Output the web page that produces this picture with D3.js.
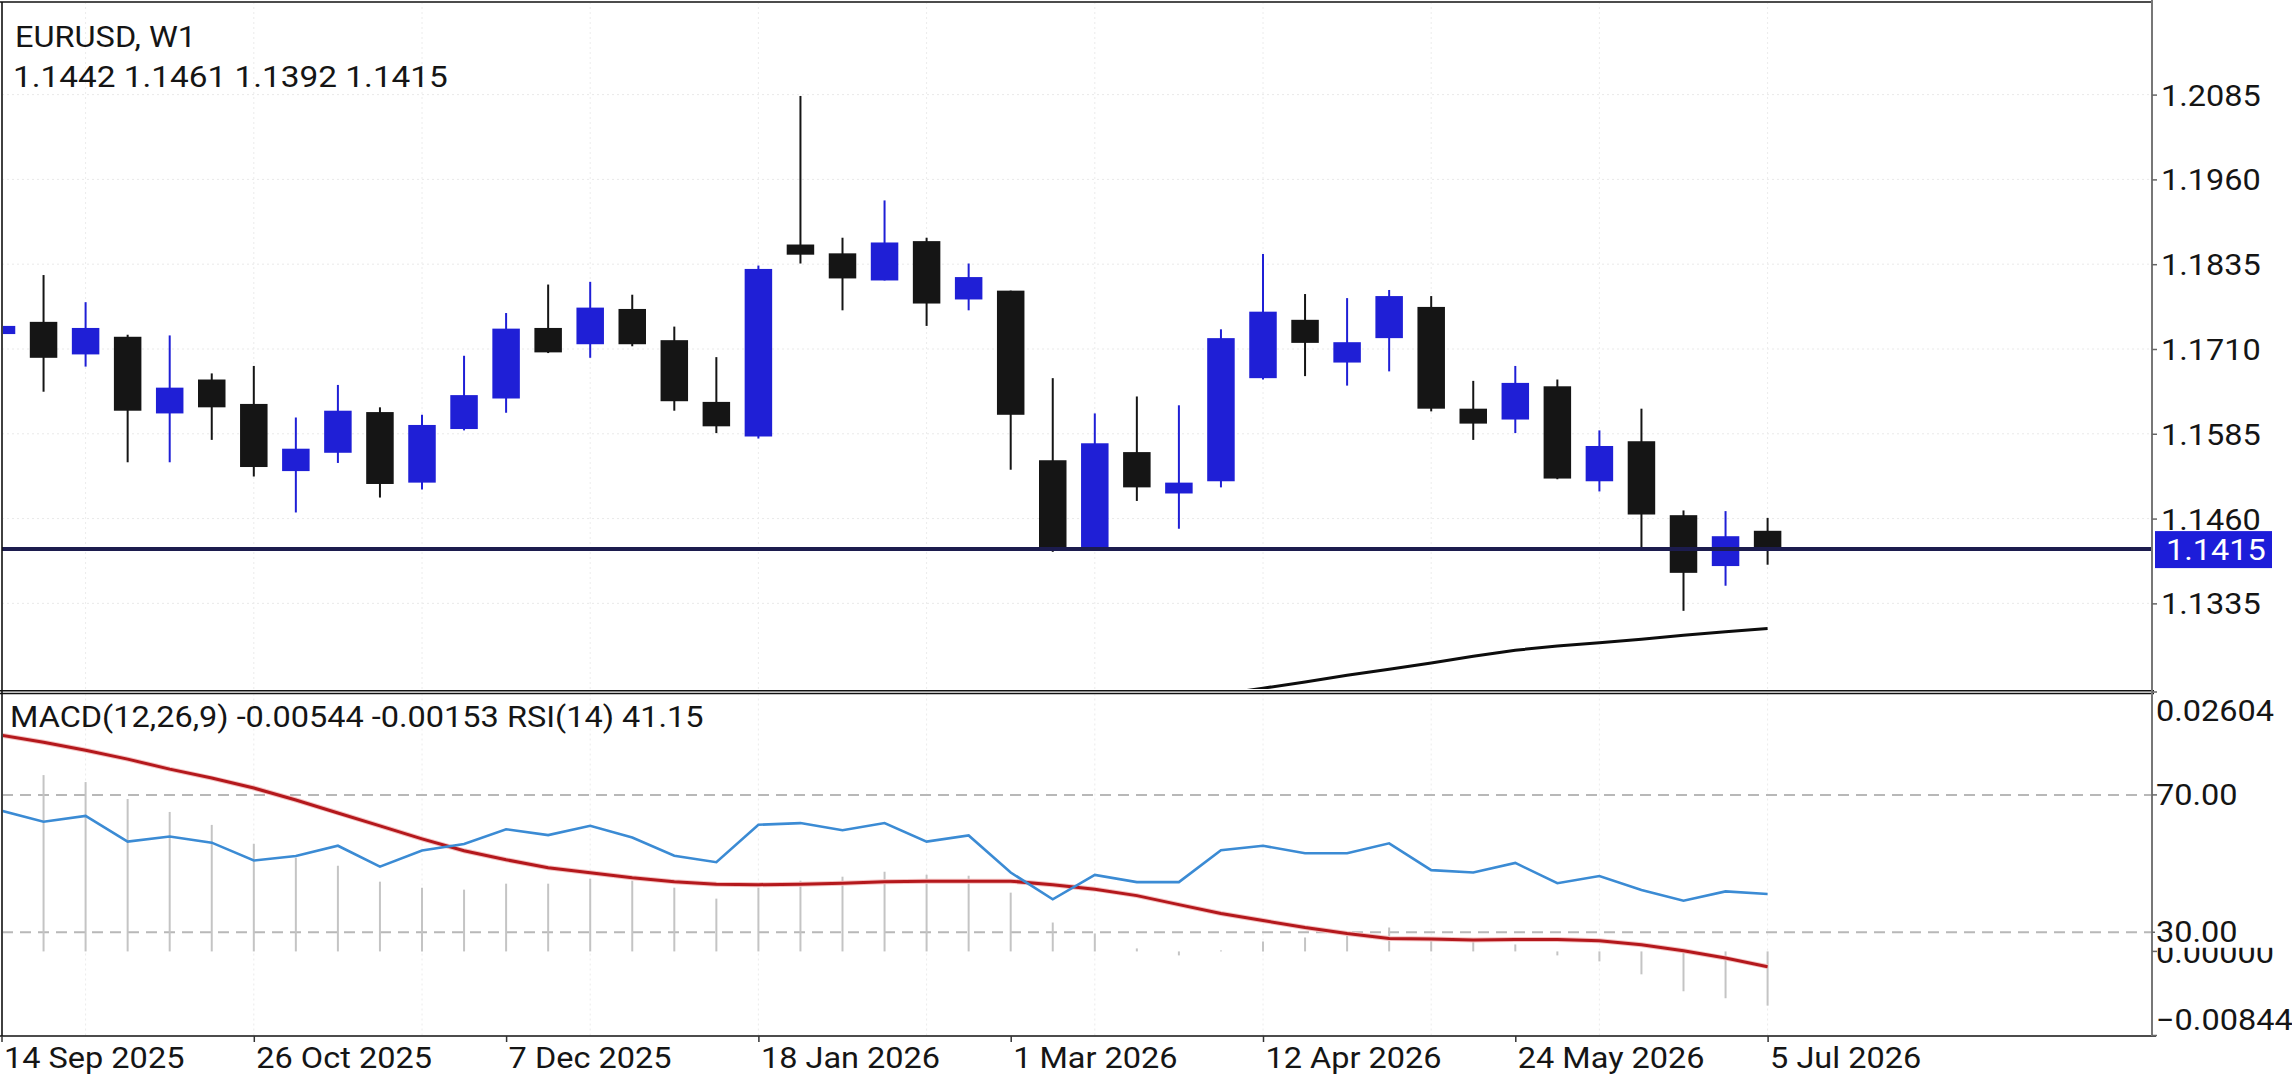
<!DOCTYPE html>
<html><head><meta charset="utf-8">
<script src="https://cdn.jsdelivr.net/npm/d3@7"></script>
<style>html,body{margin:0;padding:0;background:#fff;overflow:hidden}</style>
</head><body>
<script>
// ---------- DATA ----------
const weeks = ["14 Sep 2025","21 Sep 2025","28 Sep 2025","5 Oct 2025","12 Oct 2025","19 Oct 2025","26 Oct 2025",
"2 Nov 2025","9 Nov 2025","16 Nov 2025","23 Nov 2025","30 Nov 2025","7 Dec 2025","14 Dec 2025","21 Dec 2025","28 Dec 2025",
"4 Jan 2026","11 Jan 2026","18 Jan 2026","25 Jan 2026","1 Feb 2026","8 Feb 2026","15 Feb 2026","22 Feb 2026",
"1 Mar 2026","8 Mar 2026","15 Mar 2026","22 Mar 2026","29 Mar 2026","5 Apr 2026","12 Apr 2026","19 Apr 2026","26 Apr 2026",
"3 May 2026","10 May 2026","17 May 2026","24 May 2026","31 May 2026","7 Jun 2026","14 Jun 2026","21 Jun 2026","28 Jun 2026","5 Jul 2026"];
const openV  = [1.1732,1.1750,1.1702,1.1728,1.1615,1.1665,1.1629,1.1530,1.1557,1.1617,1.1513,1.1592,1.1637,1.1741,1.1717,1.1769,1.1723,1.1632,1.1581,1.1864,1.1851,1.1811,1.1869,1.1783,1.1796,1.1546,1.1415,1.1558,1.1497,1.1515,1.1667,1.1753,1.1690,1.1726,1.1772,1.1622,1.1606,1.1655,1.1515,1.1574,1.1465,1.1390,1.1442];
const highV  = [1.1919,1.1819,1.1779,1.1731,1.1730,1.1674,1.1685,1.1609,1.1657,1.1624,1.1613,1.1700,1.1763,1.1805,1.1809,1.1790,1.1743,1.1698,1.1833,1.2083,1.1874,1.1929,1.1874,1.1836,1.1796,1.1667,1.1615,1.1640,1.1627,1.1739,1.1850,1.1791,1.1785,1.1797,1.1788,1.1663,1.1685,1.1665,1.1590,1.1622,1.1472,1.1471,1.1461];
const lowV   = [1.1718,1.1647,1.1684,1.1543,1.1543,1.1576,1.1522,1.1469,1.1542,1.1491,1.1503,1.1590,1.1616,1.1704,1.1697,1.1714,1.1619,1.1586,1.1578,1.1836,1.1767,1.1811,1.1744,1.1767,1.1532,1.1411,1.1413,1.1486,1.1445,1.1506,1.1665,1.1670,1.1656,1.1677,1.1618,1.1576,1.1586,1.1518,1.1500,1.1417,1.1324,1.1361,1.1392];
const closeV = [1.1744,1.1697,1.1741,1.1619,1.1653,1.1624,1.1536,1.1563,1.1619,1.1511,1.1598,1.1642,1.1740,1.1705,1.1771,1.1717,1.1633,1.1596,1.1828,1.1849,1.1814,1.1867,1.1777,1.1816,1.1613,1.1414,1.1571,1.1506,1.1513,1.1726,1.1765,1.1719,1.1720,1.1788,1.1622,1.1600,1.1660,1.1519,1.1567,1.1466,1.1380,1.1434,1.1415];
const maV = [null,null,null,null,null,null,null,null,null,null,null,null,null,null,null,null,null,null,null,null,null,null,null,null,null,null,null,null,null,
  1.1201,1.1210,1.1219,1.1229,1.1238,1.1247,1.1257,1.1266,1.1272,1.1277,1.1282,1.1288,1.1293,1.1298];
const rsiV = [65.4,62.2,63.9,56.4,57.9,56.1,50.9,52.2,55.2,49.1,53.8,55.7,60.0,58.3,61.0,
  57.6,52.3,50.4,61.3,61.8,59.7,61.8,56.4,58.2,47.4,39.6,46.7,44.6,44.6,
  53.9,55.2,53.0,53.0,55.9,48.1,47.4,50.2,44.3,46.4,42.3,39.2,41.9,41.15];
const macdV = [0.0184,0.0177,0.0170,0.0153,0.0140,0.0127,0.0108,0.0094,0.0086,0.0070,0.0064,0.0062,0.0068,0.0068,0.0073,
  0.0071,0.0064,0.0053,0.0064,0.0071,0.0075,0.0080,0.0077,0.0076,0.0059,0.0029,0.0018,0.0003,-0.0004,
  0.0001,0.0010,0.0014,0.0017,0.0024,0.0011,0.0010,0.0007,-0.0004,-0.0010,-0.0023,-0.0040,-0.0047,-0.00544];
const signalV = [0.0217,0.0210,0.0202,0.0193,0.0183,0.0174,0.0164,0.0152,0.0139,0.0126,0.0113,0.0101,0.0092,0.0084,0.0079,
  0.0074,0.0070,0.00675,0.0067,0.00675,0.00685,0.0070,0.00705,0.00705,0.00705,0.0067,0.00625,0.0056,0.0047,
  0.0038,0.0031,0.0024,0.0018,0.0013,0.00124,0.00114,0.0012,0.0012,0.00107,0.00067,0.00007,-0.00067,-0.00153];
const dateTicks = ["14 Sep 2025","26 Oct 2025","7 Dec 2025","18 Jan 2026","1 Mar 2026","12 Apr 2026","24 May 2026","5 Jul 2026"];
const priceTicks = [1.2085,1.1960,1.1835,1.1710,1.1585,1.1460,1.1335];
const lastPrice = 1.1415;
const rsiLevels = [70,30];
const macdRange = [-0.00844,0.02604];
const titleText = "EURUSD, W1";
const ohlcText = "1.1442 1.1461 1.1392 1.1415";
const subTitle = "MACD(12,26,9) -0.00544 -0.00153 RSI(14) 41.15";

// ---------- LAYOUT ----------
const W=2292,H=1080;
const plotL=2, plotR=2152, mainT=2, mainB=690, subT=693.5, subB=1036;
const FONT="Roboto", FS=29, STR=1.12;
const bullC="#1f1fd6", bearC="#151515";

const svg=d3.select('body').append('svg').attr('width',W).attr('height',H).style('display','block');
svg.append('rect').attr('width',W).attr('height',H).attr('fill','#fff');
const defs=svg.append('defs');
defs.append('clipPath').attr('id','cm').append('rect').attr('x',plotL+1).attr('y',mainT+1).attr('width',plotR-plotL-2).attr('height',mainB-mainT-2);
defs.append('clipPath').attr('id','cs').append('rect').attr('x',plotL+1).attr('y',subT+1).attr('width',plotR-plotL-2).attr('height',subB-subT-2);

const x=d3.scalePoint().domain(weeks).range([1.5,1767.6]);
const y=d3.scaleLinear().domain([1.12073,1.22215]).range([mainB,mainT]);
const yR=d3.scaleLinear().domain([0,100]).range([1035.3,691.9]);
const yM=d3.scaleLinear().domain(macdRange).range([1035.5,692]);

function stretch(sel,f){sel.each(function(){const w=this.getComputedTextLength();d3.select(this).attr('textLength',w*f).attr('lengthAdjust','spacingAndGlyphs');});}
function txt(g,t,xx,yy,opt={}){const e=g.append('text').attr('x',xx).attr('y',yy).text(t)
  .attr('font-family',FONT).attr('font-size',opt.fs||FS).attr('fill',opt.fill||'#151515');stretch(e,opt.str||STR);return e;}

// ---------- faint grid ----------
const gm=svg.append('g').attr('clip-path','url(#cm)');
const gs=svg.append('g').attr('clip-path','url(#cs)');
gm.selectAll('.hg').data(priceTicks).join('line').attr('x1',plotL).attr('x2',plotR).attr('y1',d=>y(d)).attr('y2',d=>y(d))
  .attr('stroke','#e9e9e9').attr('stroke-width',1).attr('stroke-dasharray','2,3');
const vgrid=weeks.filter((d,i)=>i%4===2);
[gm,gs].forEach((g,k)=>g.selectAll('.vg').data(vgrid).join('line').attr('x1',d=>x(d)).attr('x2',d=>x(d))
  .attr('y1',k?subT:mainT).attr('y2',k?subB:mainB).attr('stroke','#ececec').attr('stroke-width',1).attr('stroke-dasharray','2,3'));

// ---------- candles ----------
const candles=weeks.map((w,i)=>({w,o:openV[i],h:highV[i],l:lowV[i],c:closeV[i]}));
const cg=gm.selectAll('.cd').data(candles).join('g');
cg.append('line').attr('x1',d=>x(d.w)).attr('x2',d=>x(d.w)).attr('y1',d=>y(d.h)).attr('y2',d=>y(d.l))
  .attr('stroke',d=>d.c>=d.o?bullC:bearC).attr('stroke-width',2);
cg.append('rect').attr('x',d=>x(d.w)-13.75).attr('width',27.5)
  .attr('y',d=>y(Math.max(d.o,d.c))).attr('height',d=>Math.max(2,Math.abs(y(d.o)-y(d.c))))
  .attr('fill',d=>d.c>=d.o?bullC:bearC);

// MA line
gm.append('path').datum(weeks.map((w,i)=>({w,v:maV[i]})))
  .attr('d',d3.line().defined(d=>d.v!=null).x(d=>x(d.w)).y(d=>y(d.v)))
  .attr('fill','none').attr('stroke','#0d0d0d').attr('stroke-width',3);

// last price line
svg.append('line').attr('x1',plotL).attr('x2',plotR).attr('y1',y(lastPrice)).attr('y2',y(lastPrice))
  .attr('stroke','#1c1c4e').attr('stroke-width',4);

// ---------- sub panel ----------
gs.selectAll('.lv').data(rsiLevels).join('line').attr('x1',plotL).attr('x2',plotR).attr('y1',d=>yR(d)).attr('y2',d=>yR(d))
  .attr('stroke','#b8b8b8').attr('stroke-width',2).attr('stroke-dasharray','11,7');
gs.selectAll('.hb').data(weeks.map((w,i)=>({w,v:macdV[i]}))).join('line')
  .attr('x1',d=>x(d.w)).attr('x2',d=>x(d.w)).attr('y1',yM(0)).attr('y2',d=>yM(d.v))
  .attr('stroke','#c4c4c4').attr('stroke-width',2);
gs.append('path').datum(weeks.map((w,i)=>({w,v:signalV[i]})))
  .attr('d',d3.line().x(d=>x(d.w)).y(d=>yM(d.v)))
  .attr('fill','none').attr('stroke','#f4c2c2').attr('stroke-width',5);
gs.append('path').datum(weeks.map((w,i)=>({w,v:signalV[i]})))
  .attr('d',d3.line().x(d=>x(d.w)).y(d=>yM(d.v)))
  .attr('fill','none').attr('stroke','#b4181c').attr('stroke-width',3);
gs.append('path').datum(weeks.map((w,i)=>({w,v:rsiV[i]})))
  .attr('d',d3.line().x(d=>x(d.w)).y(d=>yR(d.v)))
  .attr('fill','none').attr('stroke','#3b8bd4').attr('stroke-width',2.6);

// ---------- borders ----------
const bd=svg.append('g').attr('stroke','#111').attr('stroke-width',1.6);
bd.append('line').attr('x1',0).attr('x2',plotR).attr('y1',2).attr('y2',2);
bd.append('line').attr('x1',2).attr('x2',2).attr('y1',2).attr('y2',subB);
bd.append('line').attr('x1',0).attr('x2',plotR+2).attr('y1',mainB+0.8).attr('y2',mainB+0.8);
bd.append('line').attr('x1',0).attr('x2',plotR+2).attr('y1',subT).attr('y2',subT);
bd.append('line').attr('x1',0).attr('x2',plotR+4).attr('y1',subB).attr('y2',subB);
svg.append('line').attr('x1',plotR).attr('x2',plotR).attr('y1',0).attr('y2',subB).attr('stroke','#777').attr('stroke-width',2);

// ---------- price axis ----------
const ax=svg.append('g').attr('transform',`translate(${plotR},0)`)
  .call(d3.axisRight(y).tickValues(priceTicks).tickFormat(d3.format('.4f')).tickSize(5).tickPadding(4));
ax.select('.domain').remove();
ax.selectAll('line').attr('stroke','#666').attr('stroke-width',1.5);
ax.selectAll('text').attr('font-family',FONT).attr('font-size',FS).attr('fill','#151515').attr('dy','0.36em');
stretch(ax.selectAll('text'),STR);

// last price label
const lpY=y(lastPrice);
svg.append('rect').attr('x',plotR+3).attr('y',lpY-18).attr('width',117).attr('height',37).attr('fill','#1d1dd9');
txt(svg,d3.format('.4f')(lastPrice),plotR+14,lpY+11,{fill:'#ffffff'});

// sub panel labels
const sg=svg.append('g');
const subTickYs=[yM(macdRange[1]),yR(70),yM(0),yR(30),yM(macdRange[0])];
sg.selectAll('line').data(subTickYs).join('line').attr('x1',plotR).attr('x2',plotR+5).attr('y1',d=>d).attr('y2',d=>d).attr('stroke','#666').attr('stroke-width',1.5);
txt(sg,d3.format('.5f')(macdRange[1]),plotR+4,yM(macdRange[1])+28.5);
txt(sg,d3.format('.2f')(70),plotR+4,yR(70)+10.4);
txt(sg,d3.format('.5f')(0),plotR+4,yM(0)+11.5);
sg.append('rect').attr('x',plotR+3).attr('y',yR(30)-15).attr('width',130).attr('height',30.5).attr('fill','#fff');
txt(sg,d3.format('.2f')(30),plotR+4,yR(30)+9.5);
txt(sg,d3.format('.5f')(macdRange[0]),plotR+4,yM(macdRange[0])-5.5);

// ---------- time axis ----------
const tx=svg.append('g').attr('transform',`translate(0,${subB})`)
  .call(d3.axisBottom(x).tickValues(dateTicks).tickSize(6).tickPadding(0));
tx.select('.domain').remove();
tx.selectAll('line').attr('stroke','#333').attr('stroke-width',1.5);
tx.selectAll('text').attr('font-family',FONT).attr('font-size',FS).attr('fill','#151515')
  .attr('text-anchor','start').attr('x',2).attr('y',32).attr('dy',0);
stretch(tx.selectAll('text'),STR);

// ---------- headers ----------
txt(svg,titleText,15,47);
txt(svg,ohlcText,13,87,{str:1.15});
txt(svg,subTitle,10,727);
</script>
</body></html>
